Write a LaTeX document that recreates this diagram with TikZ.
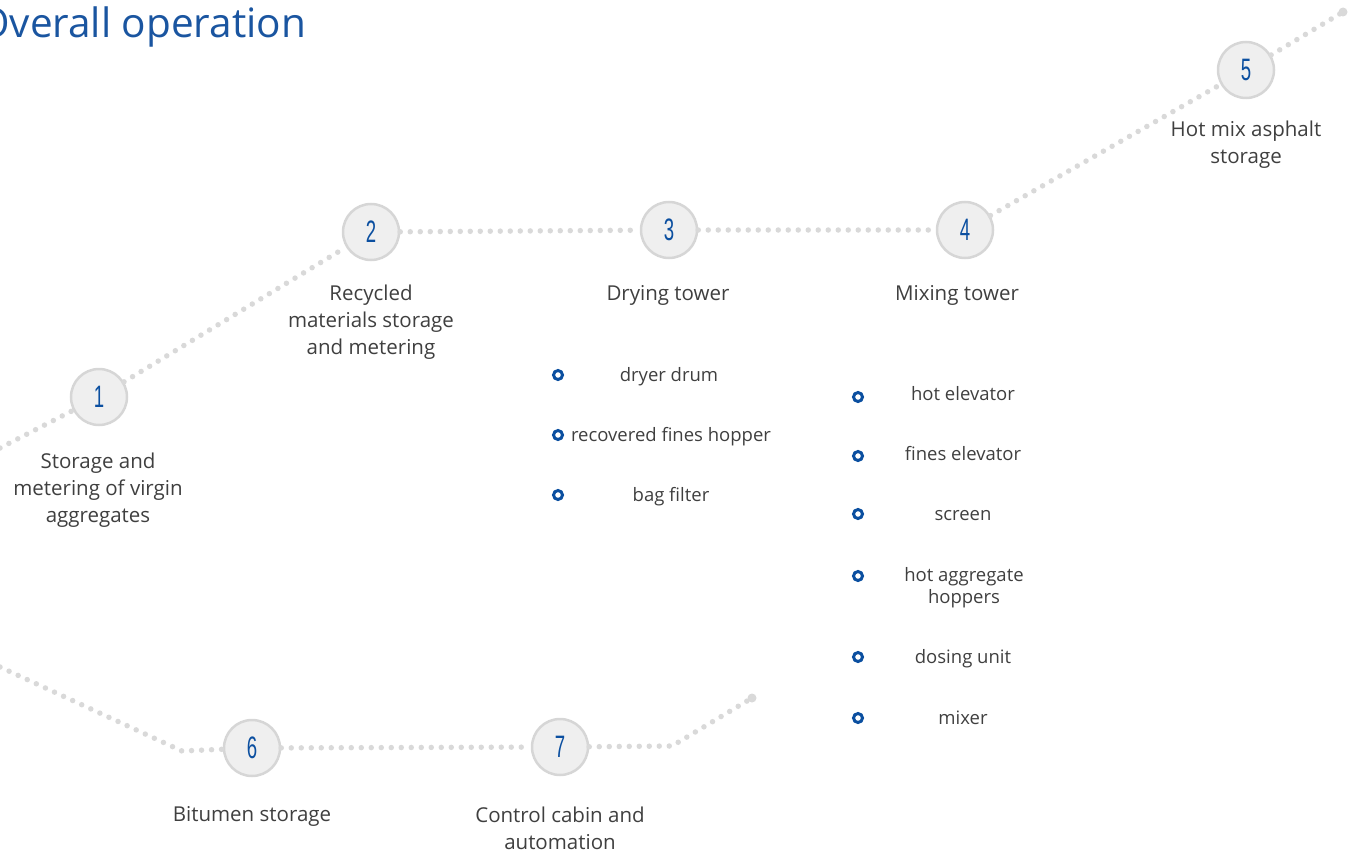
\documentclass[tikz,border=0pt]{standalone}
\usepackage{fontspec}
\setmainfont{Open Sans}
\newfontfamily\numfont[FakeStretch=0.6]{Liberation Sans}
\definecolor{brandblue}{HTML}{0B4FA0}
\definecolor{titleblue}{HTML}{1A55A0}
\definecolor{textgray}{HTML}{3F3F3F}
\definecolor{dotgray}{HTML}{D9D9D9}
\definecolor{ringgray}{HTML}{D6D6D6}
\definecolor{fillgray}{HTML}{EFEFEF}
\begin{document}
\begin{tikzpicture}[x=1pt,y=-1pt,
  dots/.style={draw=dotgray, line width=5.5pt, line cap=round, dash pattern=on 0pt off 10pt},
  stepcircle/.style={circle, draw=ringgray, line width=2.5pt, fill=fillgray, minimum size=56pt, inner sep=0pt, text=brandblue, font=\numfont\fontsize{31}{31}\selectfont},
  steplabel/.style={text=textgray, font=\fontsize{20.5}{27}\selectfont, align=center, anchor=base, inner sep=0pt},
  bulletdot/.style={circle, draw=brandblue, line width=3pt, minimum size=9pt, inner sep=0pt},
  itemtext/.style={text=textgray, font=\fontsize{18.5}{22}\selectfont, align=center, anchor=base, inner sep=0pt}
]
\clip (0,0) rectangle (1363,856);

% title
\node[anchor=base west, text=titleblue, font=\fontsize{40.5}{40}\selectfont, inner sep=0pt] (title) at (-22,38) {Overall operation};

% free ends of the dotted paths
\coordinate (startA) at (0,448);
\coordinate (endA) at (1343,12);
\coordinate (startB) at (0,667);
\coordinate (cornerB) at (182,751);
\coordinate (cornerC) at (672,746);
\coordinate (endB) at (752,698);

% step circles
\node[stepcircle] (n1) at (99,397) {1};
\node[stepcircle] (n2) at (371,232) {2};
\node[stepcircle] (n3) at (669,230) {3};
\node[stepcircle] (n4) at (965,230) {4};
\node[stepcircle] (n5) at (1246,70) {5};
\node[stepcircle] (n6) at (252,748) {6};
\node[stepcircle] (n7) at (560,747) {7};

% dotted connectors
\draw[dots] (startA) -- (n1);
\draw[dots] (n1) -- (n2);
\draw[dots] (n2) -- (n3);
\draw[dots] (n3) -- (n4);
\draw[dots] (n4) -- (n5);
\draw[dots] (n5) -- (endA);
\fill[dotgray] (endA) circle (4.5pt);
\draw[dots] (startB) -- (cornerB) -- (n6);
\draw[dots] (n6) -- (n7);
\draw[dots] (n7) -- (cornerC) -- (endB);
\fill[dotgray] (endB) circle (4.5pt);

% step labels (anchor = baseline of last line)
\node[steplabel] (l1) at (98,522) {Storage and\\metering of virgin\\aggregates};
\node[steplabel] (l2) at (371,354) {Recycled\\materials storage\\and metering};
\node[steplabel] (l3) at (668,300) {Drying tower};
\node[steplabel] (l4) at (957,300) {Mixing tower};
\node[steplabel] (l5) at (1246,164) {Hot mix asphalt\\storage};
\node[steplabel] (l6) at (252,821) {Bitumen storage};
\node[steplabel] (l7) at (560,849) {Control cabin and\\automation};

% drying tower items
\node[bulletdot] (b31) at (558,375) {};
\node[bulletdot] (b32) at (558,435) {};
\node[bulletdot] (b33) at (558,495) {};
\node[itemtext] (i31) at (669,381) {dryer drum};
\node[itemtext] (i32) at (671,441) {recovered fines hopper};
\node[itemtext] (i33) at (671,501) {bag filter};

% mixing tower items
\node[bulletdot] (b41) at (858,397) {};
\node[bulletdot] (b42) at (858,456) {};
\node[bulletdot] (b43) at (858,514) {};
\node[bulletdot] (b44) at (858,576) {};
\node[bulletdot] (b45) at (858,657) {};
\node[bulletdot] (b46) at (858,718) {};
\node[itemtext] (i41) at (963,400) {hot elevator};
\node[itemtext] (i42) at (963,460) {fines elevator};
\node[itemtext] (i43) at (963,520) {screen};
\node[itemtext] (i44) at (964,603) {hot aggregate\\hoppers};
\node[itemtext] (i45) at (963,663) {dosing unit};
\node[itemtext] (i46) at (963,724) {mixer};
\end{tikzpicture}
\end{document}
